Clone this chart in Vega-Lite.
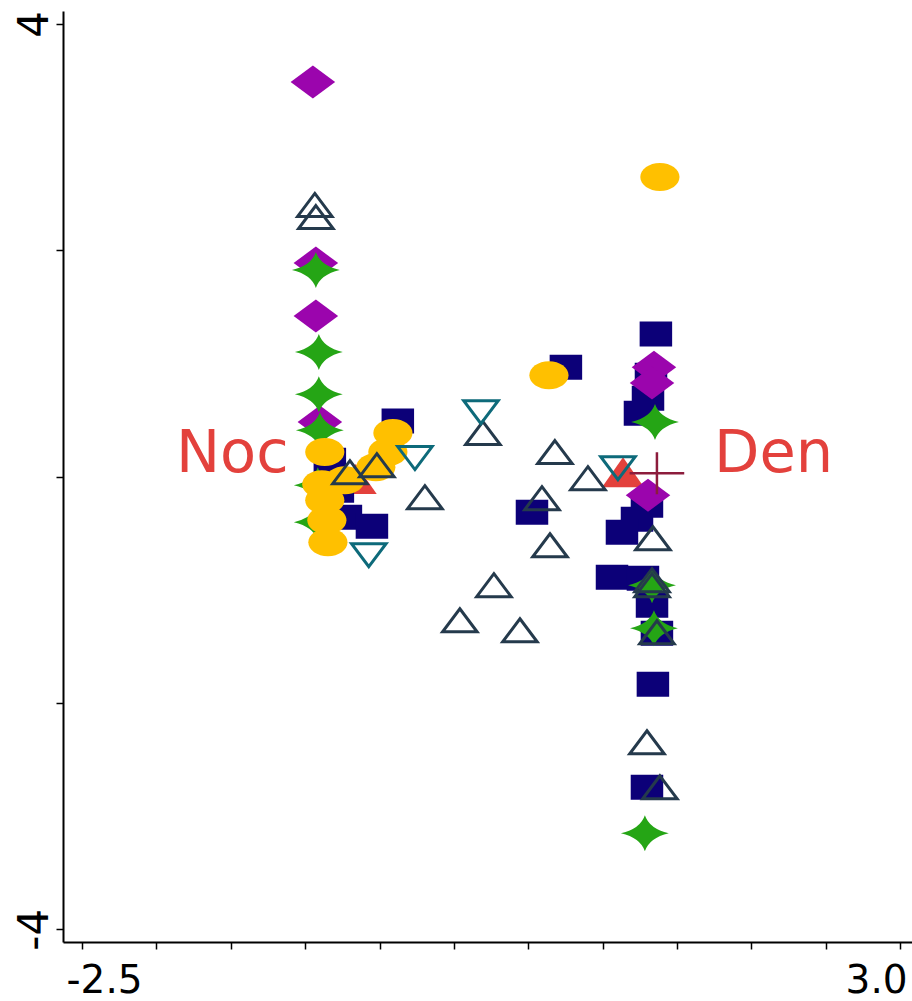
{
  "$schema": "https://vega.github.io/schema/vega-lite/v6.json",
  "width": 852,
  "height": 931,
  "autosize": "none",
  "padding": {"left": 63, "top": 11, "right": 0, "bottom": 59},
  "background": "white",
  "config": {"view": {"stroke": null}},
  "data": {"values": [
    {"g": "red", "x": 1.137, "y": 0.040},
    {"g": "red", "x": -0.660, "y": -0.020},
    {"g": "sq", "x": 1.358, "y": 1.260},
    {"g": "sq", "x": 0.753, "y": 0.968},
    {"g": "sq", "x": -0.377, "y": 0.491},
    {"g": "sq", "x": 1.325, "y": 0.897},
    {"g": "sq", "x": 1.305, "y": 0.694},
    {"g": "sq", "x": 1.251, "y": 0.561},
    {"g": "sq", "x": 1.298, "y": -0.252},
    {"g": "sq", "x": 1.231, "y": -0.376},
    {"g": "sq", "x": 1.130, "y": -0.491},
    {"g": "sq", "x": 0.525, "y": -0.314},
    {"g": "sq", "x": 1.063, "y": -0.889},
    {"g": "sq", "x": 1.271, "y": -0.897},
    {"g": "sq", "x": 1.332, "y": -1.136},
    {"g": "sq", "x": 1.365, "y": -1.384},
    {"g": "sq", "x": 1.338, "y": -1.835},
    {"g": "sq", "x": 1.298, "y": -2.745},
    {"g": "sq", "x": -0.834, "y": 0.146},
    {"g": "sq", "x": -0.780, "y": -0.119},
    {"g": "sq", "x": -0.726, "y": -0.358},
    {"g": "sq", "x": -0.551, "y": -0.438},
    {"g": "dia", "x": -0.948, "y": 3.488},
    {"g": "dia", "x": -0.928, "y": 1.888},
    {"g": "dia", "x": -0.928, "y": 1.419},
    {"g": "dia", "x": -0.901, "y": 0.482},
    {"g": "dia", "x": 1.345, "y": 0.968},
    {"g": "dia", "x": 1.332, "y": 0.827},
    {"g": "dia", "x": 1.305, "y": -0.164},
    {"g": "star", "x": -0.928, "y": 1.826},
    {"g": "star", "x": -0.908, "y": 1.101},
    {"g": "star", "x": -0.908, "y": 0.729},
    {"g": "star", "x": -0.901, "y": 0.411},
    {"g": "star", "x": -0.915, "y": -0.075},
    {"g": "star", "x": -0.915, "y": -0.402},
    {"g": "star", "x": 1.352, "y": 0.482},
    {"g": "star", "x": 1.332, "y": -0.959},
    {"g": "star", "x": 1.345, "y": -1.340},
    {"g": "star", "x": 1.284, "y": -3.152},
    {"g": "ell", "x": 1.385, "y": 2.648},
    {"g": "ell", "x": 0.639, "y": 0.897},
    {"g": "ell", "x": -0.410, "y": 0.385},
    {"g": "ell", "x": -0.444, "y": 0.217},
    {"g": "ell", "x": -0.525, "y": 0.084},
    {"g": "ell", "x": -0.868, "y": 0.217},
    {"g": "ell", "x": -0.888, "y": -0.066},
    {"g": "ell", "x": -0.868, "y": -0.208},
    {"g": "ell", "x": -0.854, "y": -0.385},
    {"g": "ell", "x": -0.847, "y": -0.579},
    {"g": "ell", "x": -0.733, "y": -0.031},
    {"g": "tup", "x": -0.935, "y": 2.401},
    {"g": "tup", "x": -0.928, "y": 2.294},
    {"g": "tup", "x": 0.195, "y": 0.385},
    {"g": "tup", "x": 0.679, "y": 0.217},
    {"g": "tup", "x": -0.699, "y": 0.040},
    {"g": "tup", "x": -0.518, "y": 0.102},
    {"g": "tup", "x": -0.195, "y": -0.181},
    {"g": "tup", "x": 0.901, "y": -0.013},
    {"g": "tup", "x": 0.592, "y": -0.190},
    {"g": "tup", "x": 0.646, "y": -0.606},
    {"g": "tup", "x": 1.338, "y": -0.544},
    {"g": "tup", "x": 1.332, "y": -0.915},
    {"g": "tup", "x": 1.332, "y": -0.959},
    {"g": "tup", "x": 1.365, "y": -1.375},
    {"g": "tup", "x": 0.269, "y": -0.959},
    {"g": "tup", "x": 0.040, "y": -1.269},
    {"g": "tup", "x": 0.444, "y": -1.357},
    {"g": "tup", "x": 1.298, "y": -2.347},
    {"g": "tup", "x": 1.385, "y": -2.745},
    {"g": "tdn", "x": 0.182, "y": 0.570},
    {"g": "tdn", "x": -0.262, "y": 0.164},
    {"g": "tdn", "x": -0.572, "y": -0.694},
    {"g": "tdn", "x": 1.103, "y": 0.075},
    {"g": "cross", "x": 1.365, "y": 0.031},
    {"g": "text", "x": -1.490, "y": 0.040, "label": "Noc"},
    {"g": "text", "x": 2.149, "y": 0.040, "label": "Den"}
  ]},
  "encoding": {
    "x": {"field": "x", "type": "quantitative",
      "scale": {"domain": [-2.628, 3.1], "nice": false, "zero": false},
      "axis": {
        "values": [-2.5, -2, -1.5, -1, -0.5, 0, 0.5, 1, 1.5, 2, 2.5, 3],
        "labelExpr": "datum.value == -2.5 ? '-2.5' : (datum.value == 3 ? '3.0' : '')",
        "title": null, "grid": false,
        "domainColor": "#000", "domainWidth": 2,
        "tickColor": "#000", "tickWidth": 1.5, "tickSize": 7,
        "labelFont": "DejaVu Sans", "labelFontSize": 39, "labelColor": "#000",
        "labelBaseline": "alphabetic", "labelAlign": "center", "labelPadding": 43,
        "labelOverlap": false, "labelBound": false, "labelFlush": false,
        "labelOffset": {"condition": {"test": "datum.value < 0", "value": 22}, "value": -24}
      }},
    "y": {"field": "y", "type": "quantitative",
      "scale": {"domain": [-4.112, 4.115], "nice": false, "zero": false},
      "axis": {
        "values": [-4, -2, 0, 2, 4],
        "labelExpr": "datum.value == 4 ? '4' : (datum.value == -4 ? '-4' : '')",
        "title": null, "grid": false,
        "domainColor": "#000", "domainWidth": 2,
        "tickColor": "#000", "tickWidth": 1.5, "tickSize": 7,
        "labelFont": "DejaVu Sans", "labelFontSize": 42, "labelColor": "#000",
        "labelAngle": -90, "labelAlign": "center", "labelBaseline": "alphabetic", "labelPadding": 9,
        "labelOverlap": false, "labelBound": false, "labelFlush": false
      }}
  },
  "layer": [
    {"data": {"values": [{}]},
     "mark": {"type": "rule", "color": "#444", "strokeWidth": 1, "strokeDash": [3, 3]},
     "encoding": {"x": {"datum": 0}, "y": {"datum": -4.112}, "y2": {"datum": 4.115}}},
    {"data": {"values": [{}]},
     "mark": {"type": "rule", "color": "#444", "strokeWidth": 1, "strokeDash": [3, 3]},
     "encoding": {"y": {"datum": 0}, "x": {"datum": -2.628}, "x2": {"datum": 3.1}}},
    {"transform": [{"filter": "datum.g == 'red'"}],
     "mark": {"type": "point", "filled": true, "opacity": 1, "strokeWidth": 0, "color": "#e3413c", "shape": "M0,-1L1.4,1L-1.4,1Z", "size": 900}},
    {"transform": [{"filter": "datum.g == 'sq'"}],
     "mark": {"type": "point", "filled": true, "opacity": 1, "strokeWidth": 0, "color": "#0c0078", "shape": "M-1.3,-1H1.3V1H-1.3Z", "size": 625}},
    {"transform": [{"filter": "datum.g == 'dia'"}],
     "mark": {"type": "point", "filled": true, "opacity": 1, "strokeWidth": 0, "color": "#9b05ad", "shape": "M0,-1L1.35,0L0,1L-1.35,0Z", "size": 1089}},
    {"transform": [{"filter": "datum.g == 'star'"}],
     "mark": {"type": "point", "filled": true, "opacity": 1, "strokeWidth": 0, "color": "#25a515", "shape": "M0,-1Q0.25,-0.25,1.33,0Q0.25,0.25,0,1Q-0.25,0.25,-1.33,0Q-0.25,-0.25,0,-1Z", "size": 1296}},
    {"transform": [{"filter": "datum.g == 'ell'"}],
     "mark": {"type": "point", "filled": true, "opacity": 1, "strokeWidth": 0, "color": "#ffc000", "shape": "M-1.4,0A1.4,1,0,1,0,1.4,0A1.4,1,0,1,0,-1.4,0Z", "size": 784}},
    {"transform": [{"filter": "datum.g == 'tup'"}],
     "mark": {"type": "point", "filled": false, "opacity": 1, "strokeWidth": 3, "color": "#253a4c", "shape": "M0,-1L1.5,1L-1.5,1Z", "size": 529}},
    {"transform": [{"filter": "datum.g == 'tdn'"}],
     "mark": {"type": "point", "filled": false, "opacity": 1, "strokeWidth": 3, "color": "#0d6a7a", "shape": "M0,1L1.5,-1L-1.5,-1Z", "size": 529}},
    {"transform": [{"filter": "datum.g == 'cross'"}],
     "mark": {"type": "point", "filled": false, "opacity": 1, "strokeWidth": 2.5, "color": "#8c1c3c", "shape": "M-1.3,0H1.3M0,-1V1", "size": 1764}},
    {"transform": [{"filter": "datum.g == 'text'"}],
     "mark": {"type": "text", "font": "DejaVu Sans", "fontSize": 59, "color": "#e3413c", "align": "center", "baseline": "alphabetic"},
     "encoding": {"text": {"field": "label"}}}
  ]
}
